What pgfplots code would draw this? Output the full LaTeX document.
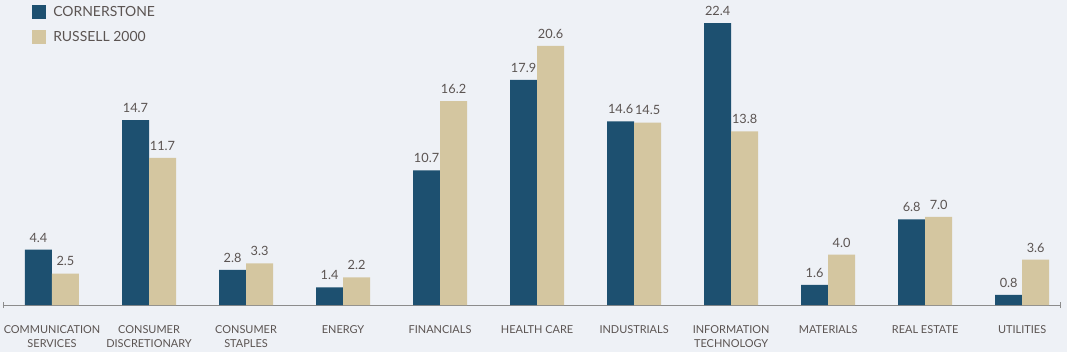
\documentclass[border=0pt]{standalone}
\usepackage{fontspec}
\setmainfont{Lato}
\usepackage{pgfplots}
\pgfplotsset{compat=1.18}
\definecolor{bgcol}{HTML}{EEF1F6}
\definecolor{cblue}{HTML}{1D5070}
\definecolor{ctan}{HTML}{D4C6A0}
\definecolor{txt}{HTML}{5B5452}
\definecolor{axcol}{HTML}{8C8C8C}
\begin{document}
\begin{tikzpicture}
\fill[bgcol] (0,0) rectangle (1067bp,352bp);
\useasboundingbox (0,0) rectangle (1067bp,352bp);
\begin{axis}[
  at={(3bp,47bp)}, anchor=south west,
  scale only axis, width=1057bp, height=305bp,
  xmin=-0.505, xmax=10.39, ymin=0, ymax=24.24,
  axis x line=bottom, axis y line=none,
  x axis line style={-, draw=axcol, line width=0.8pt},
  ybar=0pt, bar width=27bp,
  xtick={0,...,10}, major tick length=0pt,
  xticklabels={{COMMUNICATION\\SERVICES},{CONSUMER\\DISCRETIONARY},{CONSUMER\\STAPLES},ENERGY,FINANCIALS,HEALTH CARE,INDUSTRIALS,{INFORMATION\\TECHNOLOGY},MATERIALS,REAL ESTATE,UTILITIES},
  xticklabel style={font=\fontsize{11}{14}\selectfont, align=center, text=txt, anchor=north, yshift=-17.5bp},
  nodes near coords,
  every node near coord/.append style={font=\fontsize{12.8}{15}\selectfont, text=txt, yshift=4bp},
  /pgf/number format/.cd, fixed, fixed zerofill, precision=1, assume math mode=true,
  /pgfplots/.cd,
  clip=false,
  legend style={at={(rel axis cs:0.0275,0.983)}, anchor=north west, draw=none, fill=none, inner sep=0pt,
    font=\fontsize{14}{16}\selectfont, text=txt, row sep=10.5bp,
    nodes={inner sep=0pt, anchor=west}},
  legend cell align=left,
  legend image code/.code={\fill[#1] (0bp,-7bp) rectangle (14bp,7bp);},
  /tikz/every even column/.append style={column sep=0bp},
  /tikz/every odd column/.append style={column sep=7bp},
]
\addplot[fill=cblue, draw=none] coordinates {(0,4.4) (1,14.7) (2,2.8) (3,1.4) (4,10.7) (5,17.9) (6,14.6) (7,22.4) (8,1.6) (9,6.8) (10,0.8)};
\addplot[fill=ctan, draw=none] coordinates {(0,2.5) (1,11.7) (2,3.3) (3,2.2) (4,16.2) (5,20.6) (6,14.5) (7,13.8) (8,4.0) (9,7.0) (10,3.6)};
\legend{CORNERSTONE,RUSSELL 2000}
\draw[axcol, line width=0.8pt] ([yshift=-3bp]axis cs:-0.505,0) -- ([yshift=3bp]axis cs:-0.505,0);
\draw[axcol, line width=0.8pt] ([yshift=-3bp]axis cs:10.39,0) -- ([yshift=3bp]axis cs:10.39,0);
\end{axis}
\end{tikzpicture}
\end{document}
